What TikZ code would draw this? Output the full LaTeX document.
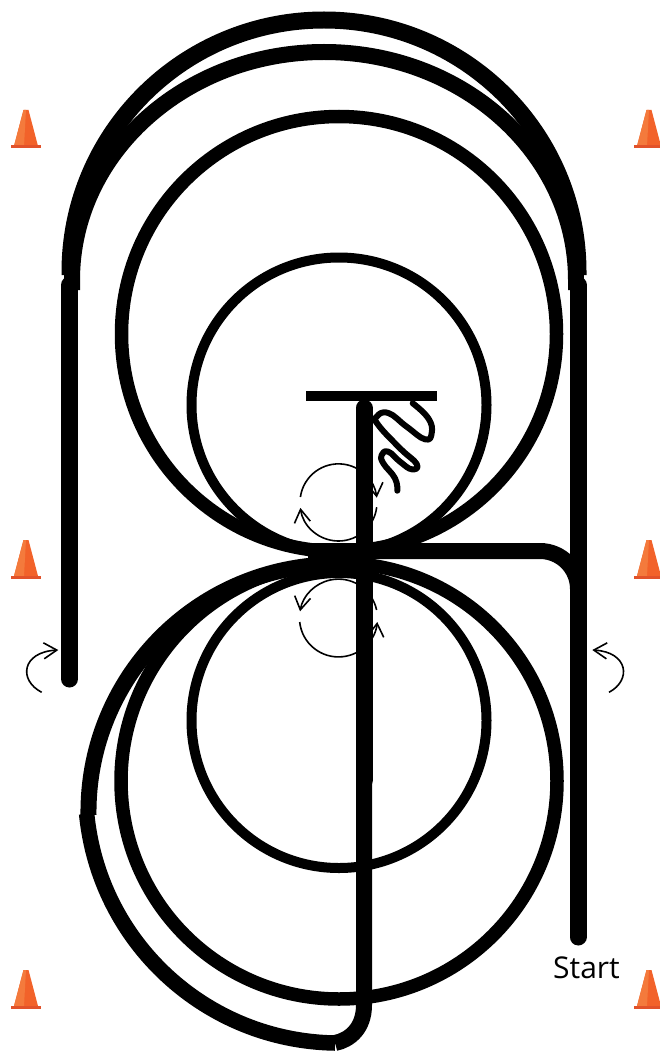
\documentclass[tikz,border=0pt]{standalone}
\usepackage{fontspec}
\setmainfont{Open Sans}
\usetikzlibrary{arrows.meta}
\definecolor{Ink}{HTML}{000000}
\definecolor{ConeOrange}{HTML}{F2622A}
\definecolor{ConeLight}{HTML}{F47A3C}
\definecolor{ConeBase}{HTML}{E2522A}
\tikzset{
  courseLine/.style={draw=Ink,line width=17pt},
  laneLine/.style={draw=Ink,line width=17pt,line cap=round},
  bigLoop/.style={draw=Ink,line width=13.5pt},
  smallLoop/.style={draw=Ink,line width=10pt},
  tBar/.style={draw=Ink,line width=9.5pt},
  wiggle/.style={draw=Ink,line width=6pt,line cap=round,line join=round},
  turnArrow/.style={draw=Ink,line width=1.6pt,-{Straight Barb[length=13pt,width=16pt]}},
  startLabel/.style={font=\fontsize{30}{32}\selectfont,text=Ink,inner sep=0pt},
  trafficCone/.pic={
    \fill[ConeOrange] (-2.5,0) -- (2.5,0) -- (12,-36) -- (-12,-36) -- cycle;
    \fill[ConeLight] (-2.5,0) -- (0,0) -- (-2,-36) -- (-12,-36) -- cycle;
    \fill[ConeBase] (-15,-35.5) rectangle (15,-38.5);
  }
}
\begin{document}
\begin{tikzpicture}[x=1pt,y=1pt,yscale=-1]
  \useasboundingbox (0,0) rectangle (660,1051);
  % cones
  \foreach \cx in {26,649}{
    \foreach \cy in {110,540,970}{
      \pic at (\cx,\cy) {trafficCone};
    }
  }
  % loops
  \draw[bigLoop] (339,334) circle[radius=217.5];
  \draw[bigLoop] (339,781) circle[radius=218];
  \draw[smallLoop] (339,405) circle[radius=147.5];
  \draw[smallLoop] (339,720.5) circle[radius=147.5];
  % arches over the top
  \draw[courseLine] (70,275) -- (70,272) arc[start angle=180,end angle=360,x radius=254,y radius=252] -- (578,275);
  \draw[courseLine,line width=16pt] (72,290) -- (72,280) arc[start angle=180,end angle=360,x radius=252,y radius=228] -- (576,290);
  % lanes
  \draw[laneLine] (69.5,679) -- (69.5,285);
  \draw[laneLine] (578,937) -- (578,285);
  \draw[courseLine,line width=16pt] (308,551) -- (540,551) arc[start angle=270,end angle=360,radius=38] -- (578,610);
  % middle line and bottom hook
  \draw[laneLine] (364,408) -- (364,780);
  \draw[courseLine,line width=16pt] (364,770) -- (364,1005) .. controls (364,1028) and (350,1040) .. (335,1043);
  \draw[courseLine,line width=15.5pt] (335,1043) arc[start angle=90.9,end angle=174.5,radius=253.5];
  \draw[courseLine,line width=16pt] (88.5,815) arc[start angle=179.3,end angle=265,radius=247.5];
  \draw[tBar] (306,396) -- (437,396);
  \draw[wiggle] plot[smooth,tension=.8] coordinates {(412.7,403.3) (428.3,418.3) (431.7,433) (425,439.3) (406.7,426.7) (388.3,413) (376.7,416.7) (378.3,425) (400,448.3) (416.7,464) (411.7,469.3) (400,461.7) (388.3,451.7) (381.7,455) (383.3,463.3) (395,478.3) (397.3,490.7)};
  % turn arrows
  \draw[turnArrow] (300.4,497) arc[start angle=188,end angle=353,radius=38.5];
  \draw[turnArrow] (376.7,507.2) arc[start angle=7,end angle=172,radius=38.5];
  \draw[turnArrow] (299.7,622) arc[start angle=174,end angle=6,radius=39];
  \draw[turnArrow] (376.6,610) arc[start angle=-12,end angle=-170,radius=39];
  \draw[turnArrow] (41.7,692.3) .. controls (18,680) and (22,652) .. (58.3,650);
  \draw[turnArrow] (609,692.3) .. controls (632,680) and (628,652) .. (592.3,650);
  \node[startLabel,anchor=base] (start) at (586.5,978) {Start};
\end{tikzpicture}
\end{document}
